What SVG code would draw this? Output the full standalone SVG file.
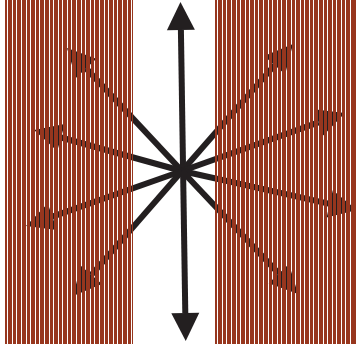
<svg xmlns="http://www.w3.org/2000/svg" width="356" height="360" viewBox="0 0 356 360">
  <defs>
    <style>
      .arrow { stroke: #231f20; stroke-width: 6; fill: none; marker-end: url(#head); }
      .bars { fill: #97361e; stroke: none; shape-rendering: crispEdges; }
    </style>
    <marker id="head" markerUnits="userSpaceOnUse" markerWidth="28" markerHeight="28" viewBox="0 -14 28 28" refX="0" refY="0" orient="auto-start-reverse" overflow="visible">
      <path d="M0,-14 L28,0 L0,14 Z" fill="#231f20"/>
    </marker>
  </defs>
  <rect width="356" height="360" fill="#ffffff"/>
  <g id="connectors">
    <path id="arrow-vertical" class="arrow" d="M180.9,30 L185.3,313" style="marker-start:url(#head)"/>
    <path id="arrow-1" class="arrow" d="M182,171 L86.1,68.4"/>
    <path id="arrow-2" class="arrow" d="M182,171 L61,137.5"/>
    <path id="arrow-3" class="arrow" d="M182,171 L52.4,216.7"/>
    <path id="arrow-4" class="arrow" d="M182,171 L91.4,274.9"/>
    <path id="arrow-5" class="arrow" d="M182,171 L274.6,65.1"/>
    <path id="arrow-6" class="arrow" d="M182,171 L318.6,122.4"/>
    <path id="arrow-7" class="arrow" d="M182,171 L329.7,203.9"/>
    <path id="arrow-8" class="arrow" d="M182,171 L278.8,273.6"/>
  </g>
  <g id="stripes-left">
    <path class="bars" d="M5,0h2v344h-2z M8,0h4v344h-4z M13,0h3v344h-3z M17,0h4v344h-4z M22,0h4v344h-4z M27,0h3v344h-3z M31,0h4v344h-4z M36,0h3v344h-3z M40,0h4v344h-4z M45,0h4v344h-4z M50,0h3v344h-3z M54,0h4v344h-4z M59,0h3v344h-3z M63,0h4v344h-4z M68,0h3v344h-3z M72,0h4v344h-4z M77,0h4v344h-4z M82,0h3v344h-3z M86,0h4v344h-4z M91,0h3v344h-3z M95,0h4v344h-4z M100,0h4v344h-4z M105,0h3v344h-3z M109,0h4v344h-4z M114,0h3v344h-3z M118,0h4v344h-4z M123,0h4v344h-4z M128,0h3v344h-3z M132,0h1v344h-1z"/>
  </g>
  <g id="stripes-right">
    <path class="bars" d="M215,0h2v344h-2z M218,0h4v344h-4z M223,0h3v344h-3z M227,0h4v344h-4z M232,0h4v344h-4z M237,0h3v344h-3z M241,0h4v344h-4z M246,0h3v344h-3z M250,0h4v344h-4z M255,0h3v344h-3z M259,0h4v344h-4z M264,0h4v344h-4z M269,0h3v344h-3z M273,0h4v344h-4z M278,0h3v344h-3z M282,0h4v344h-4z M287,0h4v344h-4z M292,0h3v344h-3z M296,0h4v344h-4z M301,0h3v344h-3z M305,0h4v344h-4z M310,0h3v344h-3z M314,0h4v344h-4z M319,0h4v344h-4z M324,0h3v344h-3z M328,0h4v344h-4z M333,0h3v344h-3z M337,0h4v344h-4z M342,0h3v344h-3z M346,0h4v344h-4z M351,0h5v344h-5z"/>
  </g>
</svg>
